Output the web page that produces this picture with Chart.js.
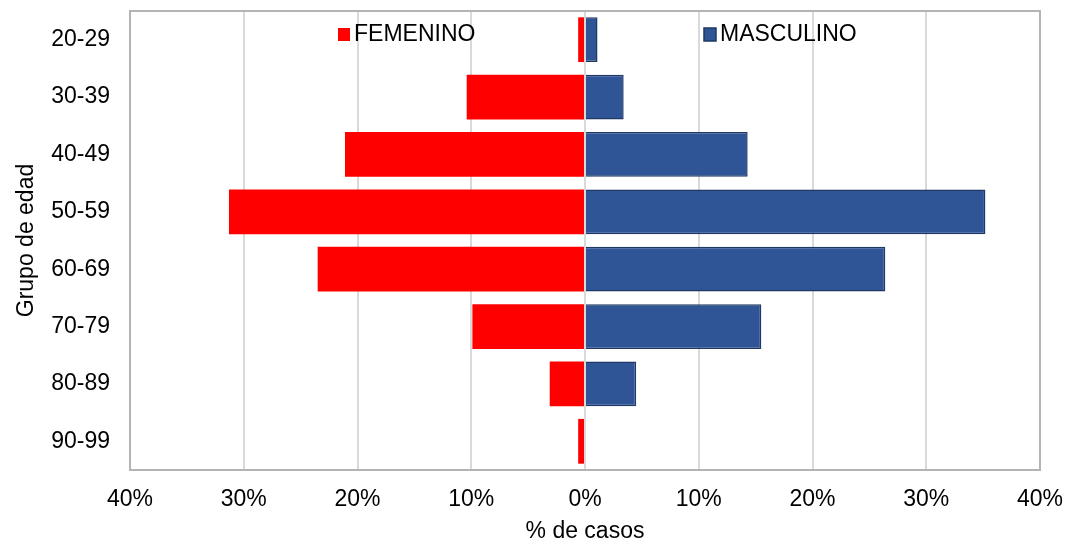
<!DOCTYPE html>
<html>
<head>
<meta charset="utf-8">
<script src="https://cdn.jsdelivr.net/npm/chart.js@4/dist/chart.umd.min.js"></script>
<style>
  html, body { margin: 0; padding: 0; background: #ffffff; }
  #wrap { width: 1068px; height: 545px; }
</style>
</head>
<body>
<div id="wrap"><canvas id="c" width="1068" height="545"></canvas></div>
<script>
const categories = ['20-29', '30-39', '40-49', '50-59', '60-69', '70-79', '80-89', '90-99'];
const femenino = [0.6, 10.4, 21.1, 31.3, 23.5, 9.9, 3.1, 0.6];
const masculino = [1.1, 3.4, 14.3, 35.2, 26.4, 15.5, 4.5, 0];
const seriesNames = ['FEMENINO', 'MASCULINO'];
const xTickValues = [-40, -30, -20, -10, 0, 10, 20, 30, 40];
const xTitle = '% de casos';
const yTitle = 'Grupo de edad';

const FONT = "'Liberation Sans', Arial, sans-serif";
const FEM_COLOR = '#FF0000';
const MAS_COLOR = '#2F5597';
const MAS_BORDER = '#1F3864';

const frame = {
  id: 'frame',
  afterDraw(chart) {
    const { ctx, chartArea: a } = chart;
    ctx.save();
    ctx.strokeStyle = '#B4B4B4';
    ctx.lineWidth = 2;
    ctx.strokeRect(a.left, a.top, a.right - a.left, a.bottom - a.top);
    // legend
    ctx.font = '23px ' + FONT;
    ctx.textBaseline = 'middle';
    ctx.fillStyle = FEM_COLOR;
    ctx.fillRect(338, 28, 12, 13);
    ctx.fillStyle = '#000';
    ctx.fillText(seriesNames[0], 354, 35);
    ctx.fillStyle = MAS_COLOR;
    ctx.fillRect(704, 28, 12, 13);
    ctx.strokeStyle = MAS_BORDER;
    ctx.lineWidth = 1.5;
    ctx.strokeRect(704, 28, 12, 13);
    ctx.fillStyle = '#000';
    ctx.fillText(seriesNames[1], 720, 35);
    ctx.restore();
  }
};

new Chart(document.getElementById('c'), {
  type: 'bar',
  data: {
    labels: categories,
    datasets: [
      {
        label: seriesNames[0],
        data: femenino.map(v => -v),
        backgroundColor: FEM_COLOR,
        borderWidth: 0,
        barPercentage: 0.78,
        categoryPercentage: 1.0
      },
      {
        label: seriesNames[1],
        data: masculino,
        backgroundColor: MAS_COLOR,
        borderColor: MAS_BORDER,
        borderWidth: 1.5,
        barPercentage: 0.78,
        categoryPercentage: 1.0
      }
    ]
  },
  options: {
    indexAxis: 'y',
    responsive: false,
    animation: false,
    devicePixelRatio: 1,
    layout: { padding: { top: 11, right: 28, left: 0, bottom: 0 } },
    plugins: {
      legend: { display: false },
      tooltip: { enabled: false }
    },
    scales: {
      x: {
        type: 'linear',
        min: -40,
        max: 40,
        afterBuildTicks(scale) { scale.ticks = xTickValues.map(v => ({ value: v })); },
        afterFit(scale) {
          scale.height = 75;
          scale.paddingLeft = 0; scale.paddingRight = 0;
          scale.paddingTop = 0; scale.paddingBottom = 0;
        },
        grid: { color: '#D9D9D9', lineWidth: 2, drawTicks: false },
        border: { display: false },
        ticks: {
          padding: 16,
          color: '#000',
          font: { family: FONT, size: 23 },
          callback: v => Math.abs(v) + '%'
        },
        title: {
          display: true,
          text: xTitle,
          color: '#000',
          font: { family: FONT, size: 23 },
          padding: { top: 8, bottom: 0 }
        }
      },
      y: {
        stacked: true,
        afterFit(scale) {
          scale.width = 130;
          scale.paddingLeft = 0; scale.paddingRight = 0;
          scale.paddingTop = 0; scale.paddingBottom = 0;
        },
        grid: { display: false, drawTicks: false },
        border: { display: false },
        ticks: {
          padding: 20,
          color: '#000',
          font: { family: FONT, size: 23 }
        },
        title: {
          display: true,
          text: yTitle,
          color: '#000',
          font: { family: FONT, size: 23 },
          padding: { top: 13, bottom: 4 }
        }
      }
    }
  },
  plugins: [frame]
});
</script>
</body>
</html>
